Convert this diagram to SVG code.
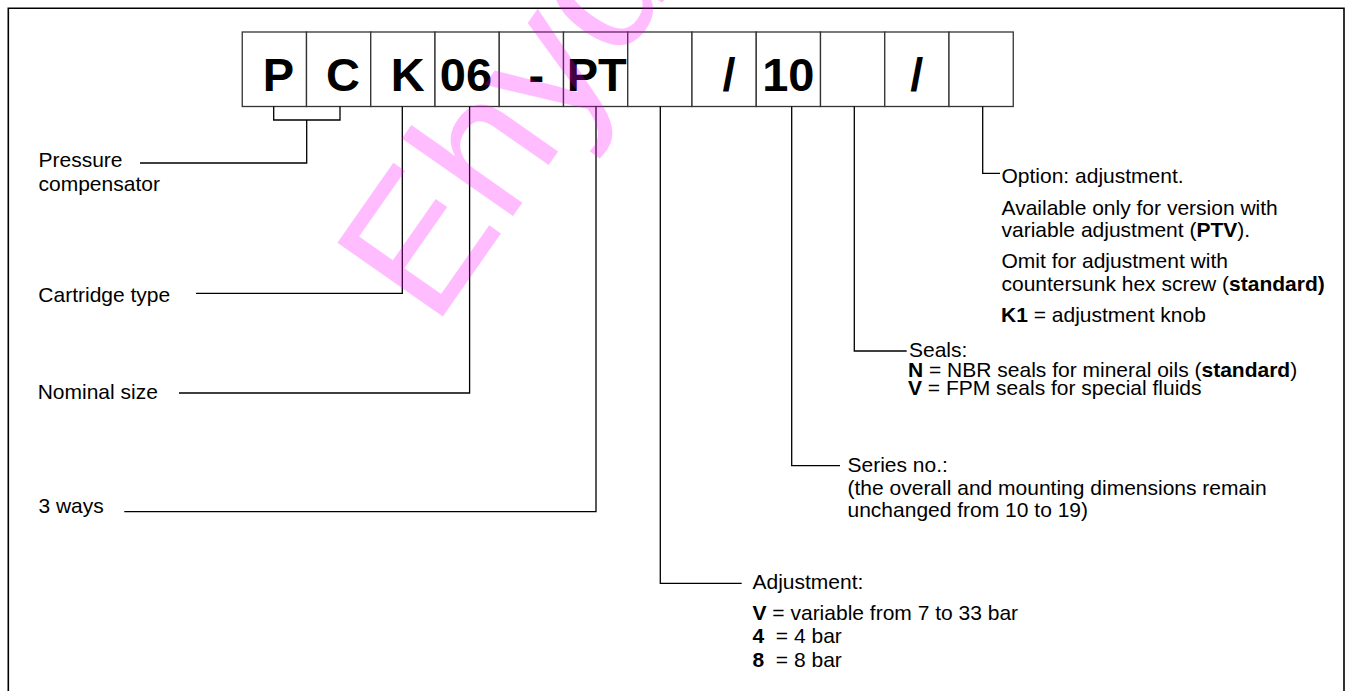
<svg xmlns="http://www.w3.org/2000/svg" width="1346" height="691" viewBox="0 0 1346 691">
<style>
.frame{fill:none;stroke:#000;stroke-width:1.6}
.box{fill:#fff;stroke:#333;stroke-width:1.3}
.code{font-family:"Liberation Sans",Arial,sans-serif;font-size:47px;font-weight:bold;fill:#000;text-anchor:middle}
.lbl{font-family:"Liberation Sans",Arial,sans-serif;font-size:21px;fill:#000}
.b{font-weight:bold}
.con{fill:none;stroke:#000;stroke-width:1.3}
.wm{font-family:"Liberation Sans",Arial,sans-serif;font-size:187px;fill:#ff00ff;fill-opacity:0.26}
</style>
<rect width="1346" height="691" fill="#fff"/>
<path class="frame" d="M8.3,700 V8.3 H1344 V700"/>

<g id="code-boxes">
  <g id="box-P"><rect class="box" x="242.25" y="32" width="64.25" height="74.5"/><text class="code" x="278.5" y="90.7">P</text></g>
  <g id="box-C"><rect class="box" x="306.5" y="32" width="64.25" height="74.5"/><text class="code" x="343" y="90.7">C</text></g>
  <g id="box-K"><rect class="box" x="370.75" y="32" width="64.25" height="74.5"/><text class="code" x="407.8" y="90.7">K</text></g>
  <g id="box-06"><rect class="box" x="435" y="32" width="64.25" height="74.5"/><text class="code" x="466" y="90.7">06</text></g>
  <g id="box-dash"><rect class="box" x="499.25" y="32" width="64.25" height="74.5"/><text class="code" x="536.3" y="90.7">-</text></g>
  <g id="box-PT"><rect class="box" x="563.5" y="32" width="64.25" height="74.5"/><text class="code" x="596.7" y="90.7">PT</text></g>
  <g id="box-adj"><rect class="box" x="627.75" y="32" width="64.25" height="74.5"/></g>
  <g id="box-slash1"><rect class="box" x="692" y="32" width="64.25" height="74.5"/><text class="code" x="729" y="90.7">/</text></g>
  <g id="box-10"><rect class="box" x="756.25" y="32" width="64.25" height="74.5"/><text class="code" x="788.3" y="90.7">10</text></g>
  <g id="box-seals"><rect class="box" x="820.5" y="32" width="64.25" height="74.5"/></g>
  <g id="box-slash2"><rect class="box" x="884.75" y="32" width="64.25" height="74.5"/><text class="code" x="916.7" y="90.7">/</text></g>
  <g id="box-option"><rect class="box" x="949" y="32" width="64.25" height="74.5"/></g>
</g>

<g id="connectors">
  <path class="con" d="M273.7,106.5 V120 H340 V106.5"/>
  <path class="con" d="M306.7,120 V163 H140"/>
  <path class="con" d="M402.3,106.5 V293.3 H196"/>
  <path class="con" d="M469.6,106.5 V393 H179"/>
  <path class="con" d="M596,106.5 V511.7 H124.3"/>
  <path class="con" d="M660.3,106.5 V583.3 H741.7"/>
  <path class="con" d="M791.7,106.5 V465.7 H840"/>
  <path class="con" d="M854.3,106.5 V351 H906.7"/>
  <path class="con" d="M982.7,106.5 V173.3 H1000"/>
</g>

<g id="label-pressure"><text class="lbl" x="38.5" y="166.7">Pressure</text><text class="lbl" x="38.5" y="190.7">compensator</text></g>
<g id="label-cartridge"><text class="lbl" x="38.3" y="301.7">Cartridge type</text></g>
<g id="label-nominal"><text class="lbl" x="37.7" y="399.3">Nominal size</text></g>
<g id="label-ways"><text class="lbl" x="38.4" y="512.7">3 ways</text></g>

<g id="label-option">
  <text class="lbl" x="1001.5" y="183.3">Option: adjustment.</text>
  <text class="lbl" x="1001.5" y="215">Available only for version with</text>
  <text class="lbl" x="1001.5" y="237.3">variable adjustment (<tspan class="b">PTV</tspan>).</text>
  <text class="lbl" x="1001.5" y="268.3">Omit for adjustment with</text>
  <text class="lbl" x="1001.5" y="291">countersunk hex screw (<tspan class="b">standard)</tspan></text>
  <text class="lbl" x="1001" y="321.7"><tspan class="b">K1</tspan> = adjustment knob</text>
</g>

<g id="label-seals">
  <text class="lbl" x="909" y="357.3">Seals:</text>
  <text class="lbl" x="908" y="376.7"><tspan class="b">N</tspan> = NBR seals for mineral oils (<tspan class="b">standard</tspan>)</text>
  <text class="lbl" x="908" y="395"><tspan class="b">V</tspan> = FPM seals for special fluids</text>
</g>

<g id="label-series">
  <text class="lbl" x="847.5" y="471.7">Series no.:</text>
  <text class="lbl" x="847.5" y="495">(the overall and mounting dimensions remain</text>
  <text class="lbl" x="847.5" y="517.3">unchanged from 10 to 19)</text>
</g>

<g id="label-adjustment">
  <text class="lbl" x="752.5" y="589.3">Adjustment:</text>
  <text class="lbl" x="752.5" y="620"><tspan class="b">V</tspan> = variable from 7 to 33 bar</text>
  <text class="lbl" x="752.5" y="643.3" xml:space="preserve"><tspan class="b">4</tspan>  = 4 bar</text>
  <text class="lbl" x="752.5" y="666.7" xml:space="preserve"><tspan class="b">8</tspan>  = 8 bar</text>
</g>

<text class="wm" transform="translate(434,329) rotate(-55)">Ehyd</text>
</svg>
